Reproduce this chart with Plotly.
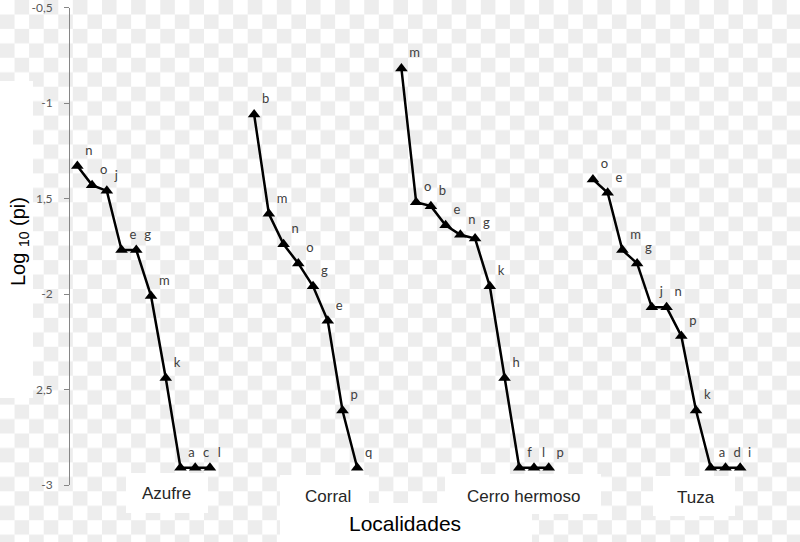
import base64
import plotly.graph_objects as go

# ---------------- data ----------------
groups = ["Azufre", "Corral", "Cerro hermoso", "Tuza"]

azufre_labels = ["n", "o", "j", "e", "g", "m", "k", "a", "c", "l"]
azufre_vals = [-1.33, -1.43, -1.46, -1.77, -1.77, -2.01, -2.44, -2.91, -2.91, -2.91]

corral_labels = ["b", "m", "n", "o", "g", "e", "p", "q"]
corral_vals = [-1.06, -1.58, -1.74, -1.84, -1.96, -2.14, -2.61, -2.91]

cerro_labels = ["m", "o", "b", "e", "n", "g", "k", "h", "f", "l", "p"]
cerro_vals = [-0.82, -1.52, -1.54, -1.64, -1.69, -1.71, -1.96, -2.44, -2.91, -2.91, -2.91]

tuza_labels = ["o", "e", "m", "g", "j", "n", "p", "k", "a", "d", "i"]
tuza_vals = [-1.40, -1.47, -1.77, -1.84, -2.07, -2.07, -2.22, -2.61, -2.91, -2.91, -2.91]

ytick_vals = [-3, -2.5, -2, -1.5, -1, -0.5]
ytick_text = ["-3", "2,5", "-2", "1,5", "-1", "-0,5"]

y_title = "Log <sub>10</sub> (pi)"
x_title = "Localidades"

series = [
    (azufre_labels, azufre_vals),
    (corral_labels, corral_vals),
    (cerro_labels, cerro_vals),
    (tuza_labels, tuza_vals),
]

# ---------------- layout helpers ----------------
W, H = 800, 542
GAP = 2  # empty category slots between localities


def px(x):
    return x / W


def py(y):
    return 1 - y / H


# checkerboard background (transparency pattern of the reference)
cw, ch = 14.57, 14.45
svg = (
    f'<svg xmlns="http://www.w3.org/2000/svg" width="{W}" height="{H}">'
    f'<defs><pattern id="p" width="{2*cw}" height="{2*ch}" patternUnits="userSpaceOnUse">'
    f'<rect width="{2*cw}" height="{2*ch}" fill="#ffffff"/>'
    f'<rect x="0" y="{ch}" width="{cw}" height="{ch}" fill="#ededed"/>'
    f'<rect x="{cw}" y="0" width="{cw}" height="{ch}" fill="#ededed"/>'
    f'</pattern></defs><rect width="{W}" height="{H}" fill="url(#p)"/></svg>'
)
svg_uri = "data:image/svg+xml;base64," + base64.b64encode(svg.encode()).decode()

fig = go.Figure()

start = 0
for labels, vals in series:
    xs = list(range(start, start + len(vals)))
    fig.add_trace(
        go.Scatter(
            x=xs,
            y=vals,
            mode="lines+markers+text",
            text=labels,
            textposition="top right",
            textfont=dict(family="Lato", size=13, color="#404040"),
            line=dict(color="black", width=2.5),
            marker=dict(symbol="triangle-up", size=11, color="black"),
            showlegend=False,
            cliponaxis=False,
            hoverinfo="x+y+text",
        )
    )
    start += len(vals) + GAP

n_slots = start - GAP

# white boxes (text boxes of the original)
boxes = [
    (0, 81, 33, 398),      # y title box
    (126, 473, 208, 513),  # Azufre
    (280, 475, 369, 515),  # Corral
    (280, 503, 532, 542),  # Localidades
    (445, 474, 601, 514),  # Cerro hermoso
    (653, 476, 735, 516),  # Tuza
]
shapes = [
    dict(type="rect", xref="paper", yref="paper",
         x0=px(a), x1=px(c), y0=py(d), y1=py(b),
         fillcolor="white", line=dict(width=0), layer="below")
    for a, b, c, d in boxes
]

group_pos = [(166, 493), (328, 496), (523, 496), (696, 497)]
annotations = [
    dict(text=g, x=px(gx), y=py(gy), xref="paper", yref="paper",
         showarrow=False, xanchor="center", yanchor="middle",
         font=dict(family="Liberation Sans", size=17, color="#262626"))
    for g, (gx, gy) in zip(groups, group_pos)
]
annotations.append(
    dict(text=x_title, x=px(405), y=py(523), xref="paper", yref="paper",
         showarrow=False, xanchor="center", yanchor="middle",
         font=dict(family="Liberation Sans", size=21, color="black"))
)
annotations.append(
    dict(text=y_title, x=px(20), y=py(242), xref="paper", yref="paper",
         showarrow=False, xanchor="center", yanchor="middle", textangle=-90,
         font=dict(family="Liberation Sans", size=20, color="black"))
)

fig.update_layout(
    template="none",
    width=W,
    height=H,
    margin=dict(l=0, r=0, t=0, b=0),
    paper_bgcolor="white",
    plot_bgcolor="rgba(0,0,0,0)",
    images=[dict(source=svg_uri, xref="paper", yref="paper", x=0, y=1,
                 sizex=1, sizey=1, xanchor="left", yanchor="top",
                 sizing="stretch", layer="below")],
    shapes=shapes,
    annotations=annotations,
    xaxis=dict(
        domain=[px(70), px(747.6)],
        range=[-0.5, n_slots - 0.5],
        visible=False,
        showgrid=False,
        zeroline=False,
        automargin=False,
    ),
    yaxis=dict(
        domain=[py(485), py(7.5)],
        range=[-3, -0.5],
        tickvals=ytick_vals,
        ticktext=ytick_text,
        showgrid=False,
        zeroline=False,
        showline=True,
        linecolor="#868686",
        linewidth=1,
        ticks="outside",
        ticklen=5,
        tickcolor="#868686",
        tickfont=dict(family="Lato", size=12, color="#595959"),
        ticklabelstandoff=9,
        ticklabeloverflow="allow",
        automargin=False,
    ),
)

fig.write_html(
    "out.html",
    config={"displayModeBar": False},
    post_script="document.body.style.margin='0';document.body.style.overflow='hidden';",
)
